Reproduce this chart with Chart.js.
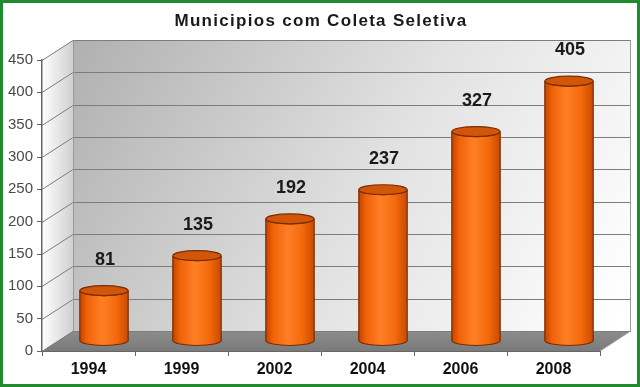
<!DOCTYPE html>
<html lang="pt">
<head>
<meta charset="UTF-8">
<title>Municipios com Coleta Seletiva</title>
<script src="https://cdn.jsdelivr.net/npm/chart.js@4.4.1/dist/chart.umd.min.js"></script>
<style>
  html, body { margin: 0; padding: 0; background: #fff; }
  .moldura { width: 640px; height: 387px; box-sizing: border-box; border: 3px solid #1f8a2e; background: #fff; }
  .moldura canvas { display: block; }
</style>
</head>
<body>
<div class="moldura"><canvas id="grafico" width="634" height="381"></canvas></div>
<script>
// dados
const titulo = 'Municipios com Coleta Seletiva';
const anos = ['1994', '1999', '2002', '2004', '2006', '2008'];
const municipios = [81, 135, 192, 237, 327, 405];
const eixoMin = 0, eixoMax = 450, eixoPasso = 50;

const FONTE = 'Arial, "Liberation Sans", sans-serif';
// deslocamento da profundidade (efeito 3D)
const DX = 31, DY = -20;

// paredes, piso, linhas de grade e titulo
const fundo3d = {
  id: 'fundo3d',
  beforeDraw(chart) {
    const ctx = chart.ctx, a = chart.chartArea, y = chart.scales.y;
    const L = a.left, R = a.right, T = a.top, B = a.bottom;
    ctx.save();

    // titulo (com espacamento entre letras)
    ctx.fillStyle = '#1a1a1a';
    ctx.font = 'bold 17px ' + FONTE;
    ctx.letterSpacing = '1.3px';
    ctx.textAlign = 'center';
    ctx.textBaseline = 'middle';
    ctx.fillText(titulo, chart.width / 2 + 1, 18);
    ctx.letterSpacing = '0px';

    // parede do fundo
    let g = ctx.createLinearGradient(L + DX, T + DY, R + DX * 0.3, B + DY);
    g.addColorStop(0, '#b0b0b0');
    g.addColorStop(0.55, '#e2e2e2');
    g.addColorStop(1, '#ffffff');
    ctx.fillStyle = g;
    ctx.fillRect(L + DX, T + DY, R - L, B - T);

    // parede lateral
    g = ctx.createLinearGradient(L, 0, L + DX, 0);
    g.addColorStop(0, '#ffffff');
    g.addColorStop(1, '#d0d0d0');
    ctx.fillStyle = g;
    ctx.beginPath();
    ctx.moveTo(L, T); ctx.lineTo(L + DX, T + DY); ctx.lineTo(L + DX, B + DY); ctx.lineTo(L, B);
    ctx.closePath(); ctx.fill();

    // piso
    g = ctx.createLinearGradient(0, B + DY, 0, B);
    g.addColorStop(0, '#8c8c8c');
    g.addColorStop(1, '#7a7a7a');
    ctx.fillStyle = g;
    ctx.beginPath();
    ctx.moveTo(L, B); ctx.lineTo(L + DX, B + DY); ctx.lineTo(R + DX, B + DY); ctx.lineTo(R, B);
    ctx.closePath(); ctx.fill();

    // grade
    ctx.strokeStyle = '#7d7d7d';
    ctx.lineWidth = 1;
    for (let v = eixoMin; v <= eixoMax; v += eixoPasso) {
      const py = Math.round(y.getPixelForValue(v)) + 0.5;
      ctx.beginPath();
      ctx.moveTo(L, py);
      ctx.lineTo(L + DX, py + DY);
      ctx.lineTo(R + DX, py + DY);
      ctx.stroke();
    }
    // contorno
    ctx.strokeStyle = '#9a9a9a';
    ctx.beginPath();
    ctx.moveTo(L + DX + 0.5, T + DY); ctx.lineTo(L + DX + 0.5, B + DY);
    ctx.moveTo(R + DX - 0.5, T + DY); ctx.lineTo(R + DX - 0.5, B + DY);
    ctx.lineTo(R, B);
    ctx.stroke();
    ctx.restore();
  }
};

// barras em forma de cilindro + rotulos de valor
const cilindros = {
  id: 'cilindros',
  afterDatasetsDraw(chart) {
    const ctx = chart.ctx;
    const meta = chart.getDatasetMeta(0);
    ctx.save();
    meta.data.forEach((el, i) => {
      const p = el.getProps(['x', 'y', 'base', 'width'], true);
      const cx = p.x + DX / 2, rx = p.width / 2, ry = 5;
      const topo = p.y + DY / 2 + 2, base = p.base + DY / 2;

      const g = ctx.createLinearGradient(cx - rx, 0, cx + rx, 0);
      g.addColorStop(0, '#c24400');
      g.addColorStop(0.15, '#f06208');
      g.addColorStop(0.45, '#ff7f26');
      g.addColorStop(0.75, '#f46a0c');
      g.addColorStop(1, '#c84a02');

      ctx.beginPath();
      ctx.moveTo(cx - rx, topo);
      ctx.lineTo(cx - rx, base);
      ctx.ellipse(cx, base, rx, ry, 0, Math.PI, 0, true);
      ctx.lineTo(cx + rx, topo);
      ctx.ellipse(cx, topo, rx, ry, 0, 0, Math.PI, false);
      ctx.closePath();
      ctx.fillStyle = g;
      ctx.fill();
      ctx.strokeStyle = '#7a2c00';
      ctx.lineWidth = 1.2;
      ctx.stroke();

      ctx.beginPath();
      ctx.ellipse(cx, topo, rx, ry, 0, 0, Math.PI * 2);
      ctx.fillStyle = '#d2560a';
      ctx.fill();
      ctx.stroke();

      ctx.fillStyle = '#1a1a1a';
      ctx.font = 'bold 18px ' + FONTE;
      ctx.textAlign = 'center';
      ctx.textBaseline = 'middle';
      ctx.fillText(String(municipios[i]), cx + 1, topo - 31);
    });
    ctx.restore();
  }
};

new Chart(document.getElementById('grafico'), {
  type: 'bar',
  data: {
    labels: anos,
    datasets: [{
      data: municipios,
      backgroundColor: 'rgba(0,0,0,0)',
      borderWidth: 0,
      categoryPercentage: 1,
      barPercentage: 0.52
    }]
  },
  options: {
    responsive: false,
    animation: false,
    layout: { padding: { left: 0, right: 37, top: 57, bottom: 0 } },
    plugins: {
      legend: { display: false },
      tooltip: { enabled: false },
      title: { display: false }
    },
    scales: {
      x: {
        afterFit(s) { s.height = 33; },
        grid: { display: true, drawOnChartArea: false, offset: true, tickLength: 5, color: '#666' },
        border: { display: true, color: '#666', width: 1 },
        ticks: { color: '#111', padding: 4, font: { family: FONTE, size: 16, weight: 'bold' } }
      },
      y: {
        min: eixoMin,
        max: eixoMax,
        afterFit(s) { s.width = 39; },
        grid: { display: true, drawOnChartArea: false, tickLength: 5, color: '#666' },
        border: { display: true, color: '#666', width: 1.5 },
        ticks: { stepSize: eixoPasso, color: '#4a4a4a', padding: 4, font: { family: FONTE, size: 15 } }
      }
    }
  },
  plugins: [fundo3d, cilindros]
});
</script>
</body>
</html>
